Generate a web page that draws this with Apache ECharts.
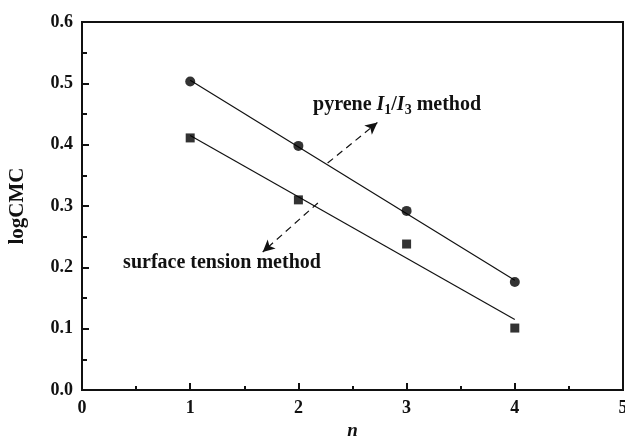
<!DOCTYPE html>
<html>
<head>
<meta charset="utf-8">
<script src="https://cdn.jsdelivr.net/npm/echarts@6/dist/echarts.min.js"></script>
<style>
  html, body { margin: 0; padding: 0; background: #fff; }
  #chart { width: 625px; height: 438px; }
</style>
</head>
<body>
<div id="chart"></div>
<script>
// values
const pyrenePts = [[1, 0.503], [2, 0.398], [3, 0.292], [4, 0.176]]
const tensionPts = [[1, 0.411], [2, 0.310], [3, 0.238], [4, 0.101]]
const pyreneFit = [[1, 0.505], [4, 0.179]]
const tensionFit = [[1, 0.415], [4, 0.115]]
// dashed pointer arrows, in data units
const pyreneArrow = [[2.27, 0.370], [2.73, 0.436]]
const tensionArrow = [[2.18, 0.305], [1.67, 0.225]]
const pyreneLabelAt = [2.135, 0.465]
const tensionLabelAt = [0.38, 0.207]

const font = "Liberation Serif"
const ink = "#111"

let myChart = echarts.init(document.getElementById("chart"))

const axisText = { fontFamily: font, fontWeight: "bold", fontSize: 18, color: ink }

myChart.setOption({
  animation: false,
  grid: {
    left: 82, right: 2, top: 22, bottom: 48,
    outerBoundsMode: "none",
    show: true, borderColor: ink, borderWidth: 2, backgroundColor: "transparent",
  },
  xAxis: {
    type: "value", min: 0, max: 5, interval: 1,
    name: "n", nameLocation: "middle", nameGap: 29,
    nameTextStyle: { fontFamily: font, fontWeight: "bold", fontStyle: "italic", fontSize: 19, color: ink },
    axisLine: { lineStyle: { color: ink, width: 2 } },
    axisTick: { inside: true, length: 7, lineStyle: { color: ink, width: 2 } },
    minorTick: { show: true, splitNumber: 2, length: 4, lineStyle: { color: ink, width: 2 } },
    axisLabel: Object.assign({ margin: 9 }, axisText),
    splitLine: { show: false },
  },
  yAxis: {
    type: "value", min: 0, max: 0.6, interval: 0.1,
    name: "logCMC", nameLocation: "middle", nameGap: 54,
    nameTextStyle: { fontFamily: font, fontWeight: "bold", fontSize: 21, color: ink },
    axisLine: { show: true, lineStyle: { color: ink, width: 2 } },
    axisTick: { show: true, inside: true, length: 7, lineStyle: { color: ink, width: 2 } },
    minorTick: { show: true, splitNumber: 2, length: 5, lineStyle: { color: ink, width: 2 } },
    axisLabel: Object.assign({ margin: 9, formatter: (v) => v.toFixed(1) }, axisText),
    splitLine: { show: false },
  },
  series: [
    {
      name: "pyrene fit", type: "line", data: pyreneFit, symbol: "none",
      lineStyle: { color: ink, width: 1.2 }, z: 2,
      markLine: {
        silent: true, symbol: ["none", "arrow"], symbolSize: [9, 12],
        lineStyle: { type: [7, 5], color: ink, width: 1.2 },
        label: { show: false },
        data: [
          [{ coord: pyreneArrow[0] }, { coord: pyreneArrow[1] }],
          [{ coord: tensionArrow[0] }, { coord: tensionArrow[1] }],
        ],
      },
    },
    {
      name: "tension fit", type: "line", data: tensionFit, symbol: "none",
      lineStyle: { color: ink, width: 1.2 }, z: 2,
    },
    {
      name: "pyrene I1/I3", type: "scatter", data: pyrenePts, symbol: "circle", symbolSize: 10,
      itemStyle: { color: "#000" }, z: 3,
    },
    {
      name: "surface tension", type: "scatter", data: tensionPts, symbol: "rect", symbolSize: 9,
      itemStyle: { color: "#000" }, z: 3,
    },
  ],
})

// place the two captions at their data positions
const p1 = myChart.convertToPixel({ gridIndex: 0 }, pyreneLabelAt)
const p2 = myChart.convertToPixel({ gridIndex: 0 }, tensionLabelAt)
const cap = { fontFamily: font, fontWeight: "bold", fontSize: 20, fill: ink }
myChart.setOption({
  graphic: [
    {
      type: "text", x: p1[0], y: p1[1],
      style: {
        text: "{t|pyrene }{i|I}{s|1}{t|/}{i|I}{s|3}{t| method}",
        verticalAlign: "middle",
        rich: {
          t: cap,
          i: Object.assign({}, cap, { fontStyle: "italic" }),
          s: Object.assign({}, cap, { fontSize: 14, verticalAlign: "bottom", padding: [11, 0, 0, 0] }),
        },
      },
    },
    {
      type: "text", x: p2[0], y: p2[1],
      style: Object.assign({ text: "surface tension method", verticalAlign: "middle" }, cap),
    },
  ],
})

window.addEventListener("resize", () => {
  myChart.resize()
})
</script>
</body>
</html>
